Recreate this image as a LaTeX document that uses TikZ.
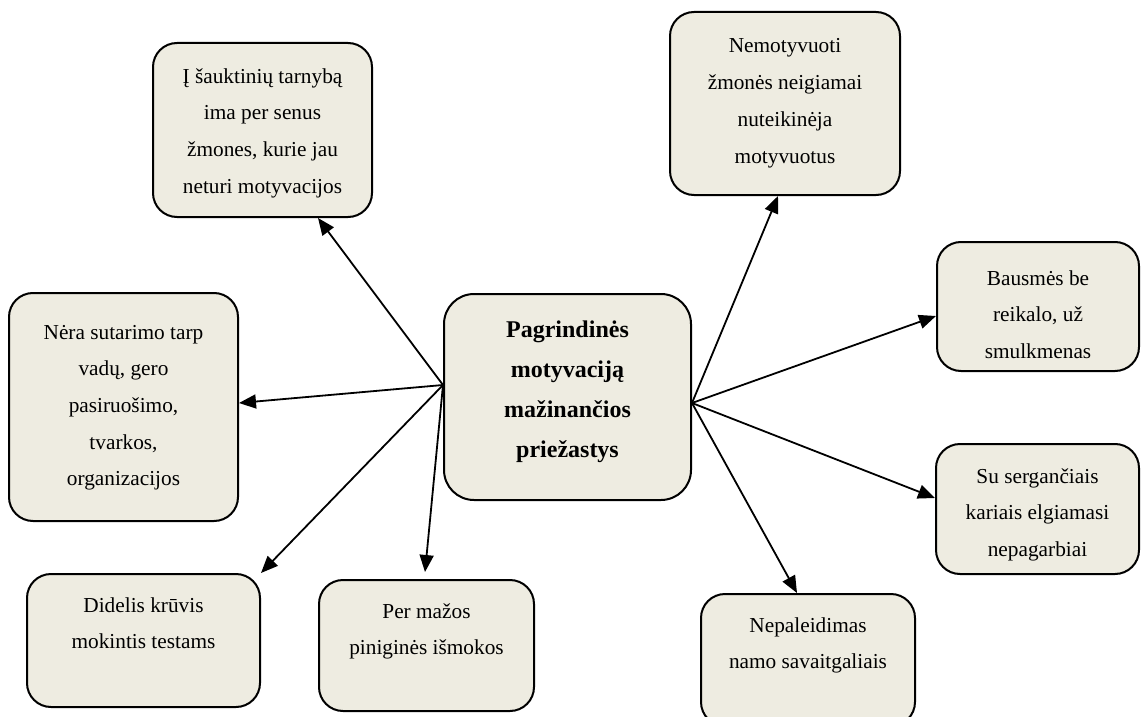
\documentclass[tikz,border=0pt]{standalone}
\usepackage{fontspec}
\setmainfont{Liberation Serif}
\usepackage{tikz}
\usetikzlibrary{arrows.meta}
\definecolor{boxfill}{HTML}{EEECE1}
\tikzstyle{cause}=[draw, fill=boxfill, line width=2pt, rounded corners=24pt, inner sep=0pt, font=\fontsize{21.3}{36.7}\selectfont]
\tikzstyle{core}=[cause, rounded corners=30pt, font=\fontsize{24}{40}\selectfont\bfseries]
\tikzstyle{link}=[line width=1.8pt, -{Triangle[length=17pt,width=14pt]}]
\newcommand{\boxtxt}[4]{\parbox[c][#2][t]{#1}{\centering\rule{0pt}{#3}#4}}

\begin{document}
\begin{tikzpicture}[x=1pt, y=-1pt]
                \useasboundingbox (0,0) rectangle (1141,717);
                % main cause in the middle
                \node[core] (main) at (567.5,397) {\boxtxt{247pt}{206pt}{43pt}{Pagrindinės\\motyvaciją\\mažinančios\\priežastys}};
                \coordinate (hubL) at (443,385);
                \coordinate (hubR) at (692,403);
                % causes round it
                \node[cause] (old) at (262.5,130) {\boxtxt{219pt}{174pt}{40pt}{Į šauktinių tarnybą\\ima per senus\\žmones, kurie jau\\neturi motyvacijos}};
                \node[cause] (nomot) at (785,103.5) {\boxtxt{230pt}{183pt}{41pt}{Nemotyvuoti\\žmonės neigiamai\\nuteikinėja\\motyvuotus}};
                \node[cause] (order) at (123.5,407) {\boxtxt{229pt}{228pt}{46pt}{Nėra sutarimo tarp\\vadų, gero\\pasiruošimo,\\tvarkos,\\organizacijos}};
                \node[cause] (punish) at (1038,306.5) {\boxtxt{202pt}{129pt}{43pt}{Bausmės be\\reikalo, už\\smulkmenas}};
                \node[cause] (sick) at (1037.5,509) {\boxtxt{203pt}{130pt}{39pt}{Su sergančiais\\kariais elgiamasi\\nepagarbiai}};
                \node[cause] (tests) at (143.5,640.5) {\boxtxt{233pt}{133pt}{38pt}{Didelis krūvis\\mokintis testams}};
                \node[cause] (pay) at (426.5,645.5) {\boxtxt{215pt}{131pt}{38pt}{Per mažos\\piniginės išmokos}};
                \node[cause] (leave) at (808,660) {\boxtxt{214pt}{132pt}{38pt}{Nepaleidimas\\namo savaitgaliais}};
                % arrows
                \draw[link] (hubL) -- ([xshift=55.5pt]old.south);
                \draw[link] (hubL) -- ([yshift=4pt]order.east);
                \draw[link] (hubL) -- (tests.north east);
                \draw[link] (hubL) -- ([xshift=-1.5pt,yshift=7pt]pay.north);
                \draw[link] (hubR) -- ([xshift=-7pt]nomot.south);
                \draw[link] (hubR) -- ([yshift=-9.5pt]punish.west);
                \draw[link] (hubR) -- ([yshift=11pt]sick.west);
                \draw[link] (hubR) -- ([xshift=-11pt]leave.north);
            \end{tikzpicture}
\end{document}
